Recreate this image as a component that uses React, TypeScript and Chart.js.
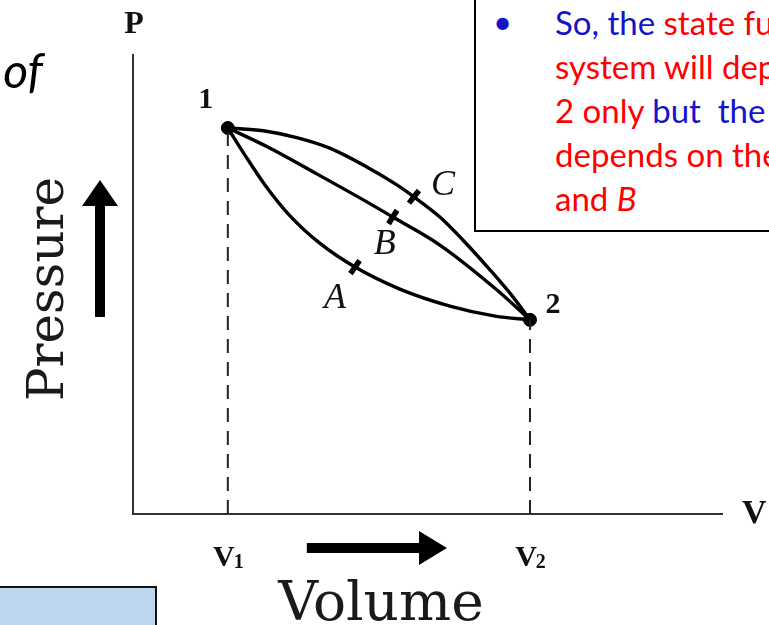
import React, { useEffect, useRef } from "react";
import { Chart, registerables } from "chart.js";

Chart.register(...registerables);

// End states of the process (volume, pressure)
const STATE_NAMES = ["1", "2"];
const STATE_V = [1.61, 6.74];
const STATE_P = [8.41, 4.23];

// Intermediate points of the three process paths between state 1 and state 2
const PATH_A_V = [1.9, 2.24, 2.67, 3.17, 3.77, 4.53, 5.38, 6.15];
const PATH_A_P = [7.82, 7.17, 6.49, 5.9, 5.38, 4.9, 4.53, 4.31];
const PATH_B_V = [2.28, 3.12, 3.97, 4.41, 5.21, 6.18];
const PATH_B_P = [8.0, 7.41, 6.8, 6.47, 5.86, 4.88];
const PATH_C_V = [2.21, 2.78, 3.34, 3.97, 4.48, 4.77, 5.21, 5.6, 6.06, 6.45];
const PATH_C_P = [8.35, 8.2, 7.97, 7.56, 7.17, 6.91, 6.47, 5.97, 5.32, 4.73];

// Labelled marks on each path
const PATH_NAMES = ["A", "B", "C"];
const MARK_V = [3.77, 4.41, 4.77];
const MARK_P = [5.38, 6.47, 6.91];

const AXIS_P = "P";
const AXIS_V = "V";
const TITLE_P = "Pressure";
const TITLE_V = "Volume";
const VOLUME_TICKS = ["1", "2"];

const serifBold = (px: number) => `bold ${px}px "Liberation Serif", "Times New Roman", serif`;

function pathPoints(vs: number[], ps: number[]) {
  const pts = [{ x: STATE_V[0], y: STATE_P[0] }];
  vs.forEach((v, i) => pts.push({ x: v, y: ps[i] }));
  pts.push({ x: STATE_V[1], y: STATE_P[1] });
  return pts;
}

const annotations = {
  id: "pvAnnotations",
  afterDatasetsDraw(chart: any) {
    const { ctx, chartArea, scales } = chart;
    const xs = scales.x;
    const ys = scales.y;
    const { left, right, top, bottom } = chartArea;
    ctx.save();
    ctx.fillStyle = "#111";

    // axis letters
    ctx.textAlign = "center";
    ctx.textBaseline = "alphabetic";
    ctx.font = serifBold(32);
    ctx.fillText(AXIS_P, left + 1, top - 22);
    ctx.textAlign = "left";
    ctx.font = serifBold(34);
    ctx.fillText(AXIS_V, right + 20, bottom + 9);

    // state numbers
    const stateOff = [
      [-22, -20],
      [23, -7],
    ];
    ctx.textAlign = "center";
    ctx.font = serifBold(30);
    STATE_NAMES.forEach((n, i) => {
      const px = xs.getPixelForValue(STATE_V[i]);
      const py = ys.getPixelForValue(STATE_P[i]);
      ctx.fillText(n, px + stateOff[i][0], py + stateOff[i][1]);
    });

    // path names
    const pathOff = [
      [-20, 31],
      [-8, 28],
      [29, -11],
    ];
    ctx.font = 'italic 36px "Liberation Serif", "Times New Roman", serif';
    ctx.textBaseline = "middle";
    PATH_NAMES.forEach((n, i) => {
      const px = xs.getPixelForValue(MARK_V[i]);
      const py = ys.getPixelForValue(MARK_P[i]);
      ctx.fillText(n, px + pathOff[i][0], py + pathOff[i][1]);
    });

    // V1 / V2 labels under the axis
    ctx.textBaseline = "alphabetic";
    ctx.textAlign = "left";
    VOLUME_TICKS.forEach((sub, i) => {
      const cx = xs.getPixelForValue(STATE_V[i]);
      ctx.font = serifBold(30);
      const wV = ctx.measureText("V").width;
      ctx.font = serifBold(20);
      const wS = ctx.measureText(sub).width;
      const x0 = cx - (wV + wS) / 2 + 1;
      ctx.font = serifBold(30);
      ctx.fillText("V", x0, bottom + 52);
      ctx.font = serifBold(20);
      ctx.fillText(sub, x0 + wV - 1, bottom + 54);
    });

    // direction arrows
    ctx.fillStyle = "#000";
    const ax = left - 33;
    const tipY = top + 125;
    ctx.fillRect(ax - 5, tipY + 25, 10, 112);
    ctx.beginPath();
    ctx.moveTo(ax, tipY);
    ctx.lineTo(ax + 18, tipY + 26);
    ctx.lineTo(ax - 18, tipY + 26);
    ctx.closePath();
    ctx.fill();

    const ay = bottom + 34;
    const x1 = xs.getPixelForValue(STATE_V[0]) + 79;
    const x2 = xs.getPixelForValue(STATE_V[1]) - 83;
    ctx.fillRect(x1, ay - 5, x2 - 27 - x1 + 1, 10);
    ctx.beginPath();
    ctx.moveTo(x2, ay);
    ctx.lineTo(x2 - 28, ay - 17);
    ctx.lineTo(x2 - 28, ay + 17);
    ctx.closePath();
    ctx.fill();

    // axis titles
    ctx.fillStyle = "#1a1a1a";
    ctx.font = '50px "DejaVu Serif", serif';
    ctx.textAlign = "center";
    ctx.save();
    ctx.translate(left - 70, 289);
    ctx.rotate(-Math.PI / 2);
    ctx.fillText(TITLE_P, 0, 0);
    ctx.restore();
    ctx.font = '55px "DejaVu Serif", serif';
    ctx.fillText(TITLE_V, 381, bottom + 106);

    ctx.restore();
  },
};

function PVChart() {
  const ref = useRef<HTMLCanvasElement>(null);
  useEffect(() => {
    if (!ref.current) return;
    const curve = (data: any[]) => ({
      type: "line" as const,
      data,
      borderColor: "#000",
      borderWidth: 3.4,
      pointRadius: 0,
      cubicInterpolationMode: "monotone" as const,
      fill: false,
    });
    const axis = {
      type: "linear" as const,
      min: 0,
      max: 10,
      ticks: { display: false },
      grid: { display: false, drawTicks: false },
      border: { display: true, color: "#333", width: 2 },
    };
    const chart = new Chart(ref.current, {
      type: "line",
      data: {
        datasets: [
          {
            data: [
              { x: STATE_V[0], y: 0 },
              { x: STATE_V[0], y: STATE_P[0] },
            ],
            borderColor: "#222",
            borderWidth: 2,
            borderDash: [14, 9],
            pointRadius: 0,
          },
          {
            data: [
              { x: STATE_V[1], y: 0 },
              { x: STATE_V[1], y: STATE_P[1] },
            ],
            borderColor: "#222",
            borderWidth: 2,
            borderDash: [14, 9],
            pointRadius: 0,
          },
          curve(pathPoints(PATH_A_V, PATH_A_P)),
          curve(pathPoints(PATH_B_V, PATH_B_P)),
          curve(pathPoints(PATH_C_V, PATH_C_P)),
          {
            data: MARK_V.map((v, i) => ({ x: v, y: MARK_P[i] })),
            showLine: false,
            pointStyle: "line",
            pointRadius: 8,
            pointBorderWidth: 5.5,
            pointRotation: [-55, -58, -52],
            pointBorderColor: "#000",
            borderColor: "#000",
          },
          {
            data: STATE_V.map((v, i) => ({ x: v, y: STATE_P[i] })),
            showLine: false,
            pointRadius: 6.5,
            pointBackgroundColor: "#000",
            pointBorderColor: "#000",
          },
        ],
      },
      options: {
        animation: false,
        responsive: false,
        devicePixelRatio: 1,
        layout: { padding: { left: 133, top: 55, right: 47, bottom: 111 } },
        plugins: { legend: { display: false }, tooltip: { enabled: false } },
        scales: { x: axis, y: axis },
      },
      plugins: [annotations],
    });
    return () => chart.destroy();
  }, []);
  return <canvas ref={ref} width={769} height={625} style={{ display: "block", position: "absolute", left: 0, top: 0 }} />;
}

const BLUE = "#1414c8";
const RED = "#ff0000";

export default function App() {
  const lineStyle: React.CSSProperties = { whiteSpace: "nowrap", height: 44 };
  return (
    <div
      style={{
        position: "absolute",
        left: 0,
        top: 0,
        width: 769,
        height: 625,
        overflow: "hidden",
        background: "#fff",
        fontFamily: "Lato, 'Open Sans', sans-serif",
      }}
    >
      <PVChart />
      <div
        style={{
          position: "absolute",
          left: -100,
          top: 40,
          width: 143,
          textAlign: "right",
          fontStyle: "italic",
          fontSize: 48,
          lineHeight: "60px",
          color: "#000",
        }}
      >
        of
      </div>
      <div
        style={{
          position: "absolute",
          left: 474,
          top: -10,
          width: 340,
          height: 242,
          boxSizing: "border-box",
          border: "2px solid #000",
          background: "#fff",
          overflow: "hidden",
        }}
      >
        <div style={{ position: "absolute", left: 17, top: 7, fontSize: 33, lineHeight: "44px", color: BLUE }}>•</div>
        <div style={{ position: "absolute", left: 79, top: 8, fontSize: 33, lineHeight: "44px" }}>
          <div style={lineStyle}>
            <span style={{ color: BLUE }}>So, the </span>
            <span style={{ color: RED }}>state function of the</span>
          </div>
          <div style={{ ...lineStyle, color: RED }}>system will depend on state 1 and</div>
          <div style={lineStyle}>
            <span style={{ color: RED }}>2 only </span>
            <span style={{ color: BLUE }}>but&nbsp; the </span>
            <span style={{ color: RED }}>path function</span>
          </div>
          <div style={{ ...lineStyle, color: RED }}>depends on the path A, C</div>
          <div style={{ ...lineStyle, color: RED }}>
            and <i>B</i>
          </div>
        </div>
      </div>
      <div
        style={{
          position: "absolute",
          left: -2,
          top: 586,
          width: 159,
          height: 60,
          boxSizing: "border-box",
          border: "2px solid #111",
          background: "#bdd7ee",
        }}
      />
    </div>
  );
}
